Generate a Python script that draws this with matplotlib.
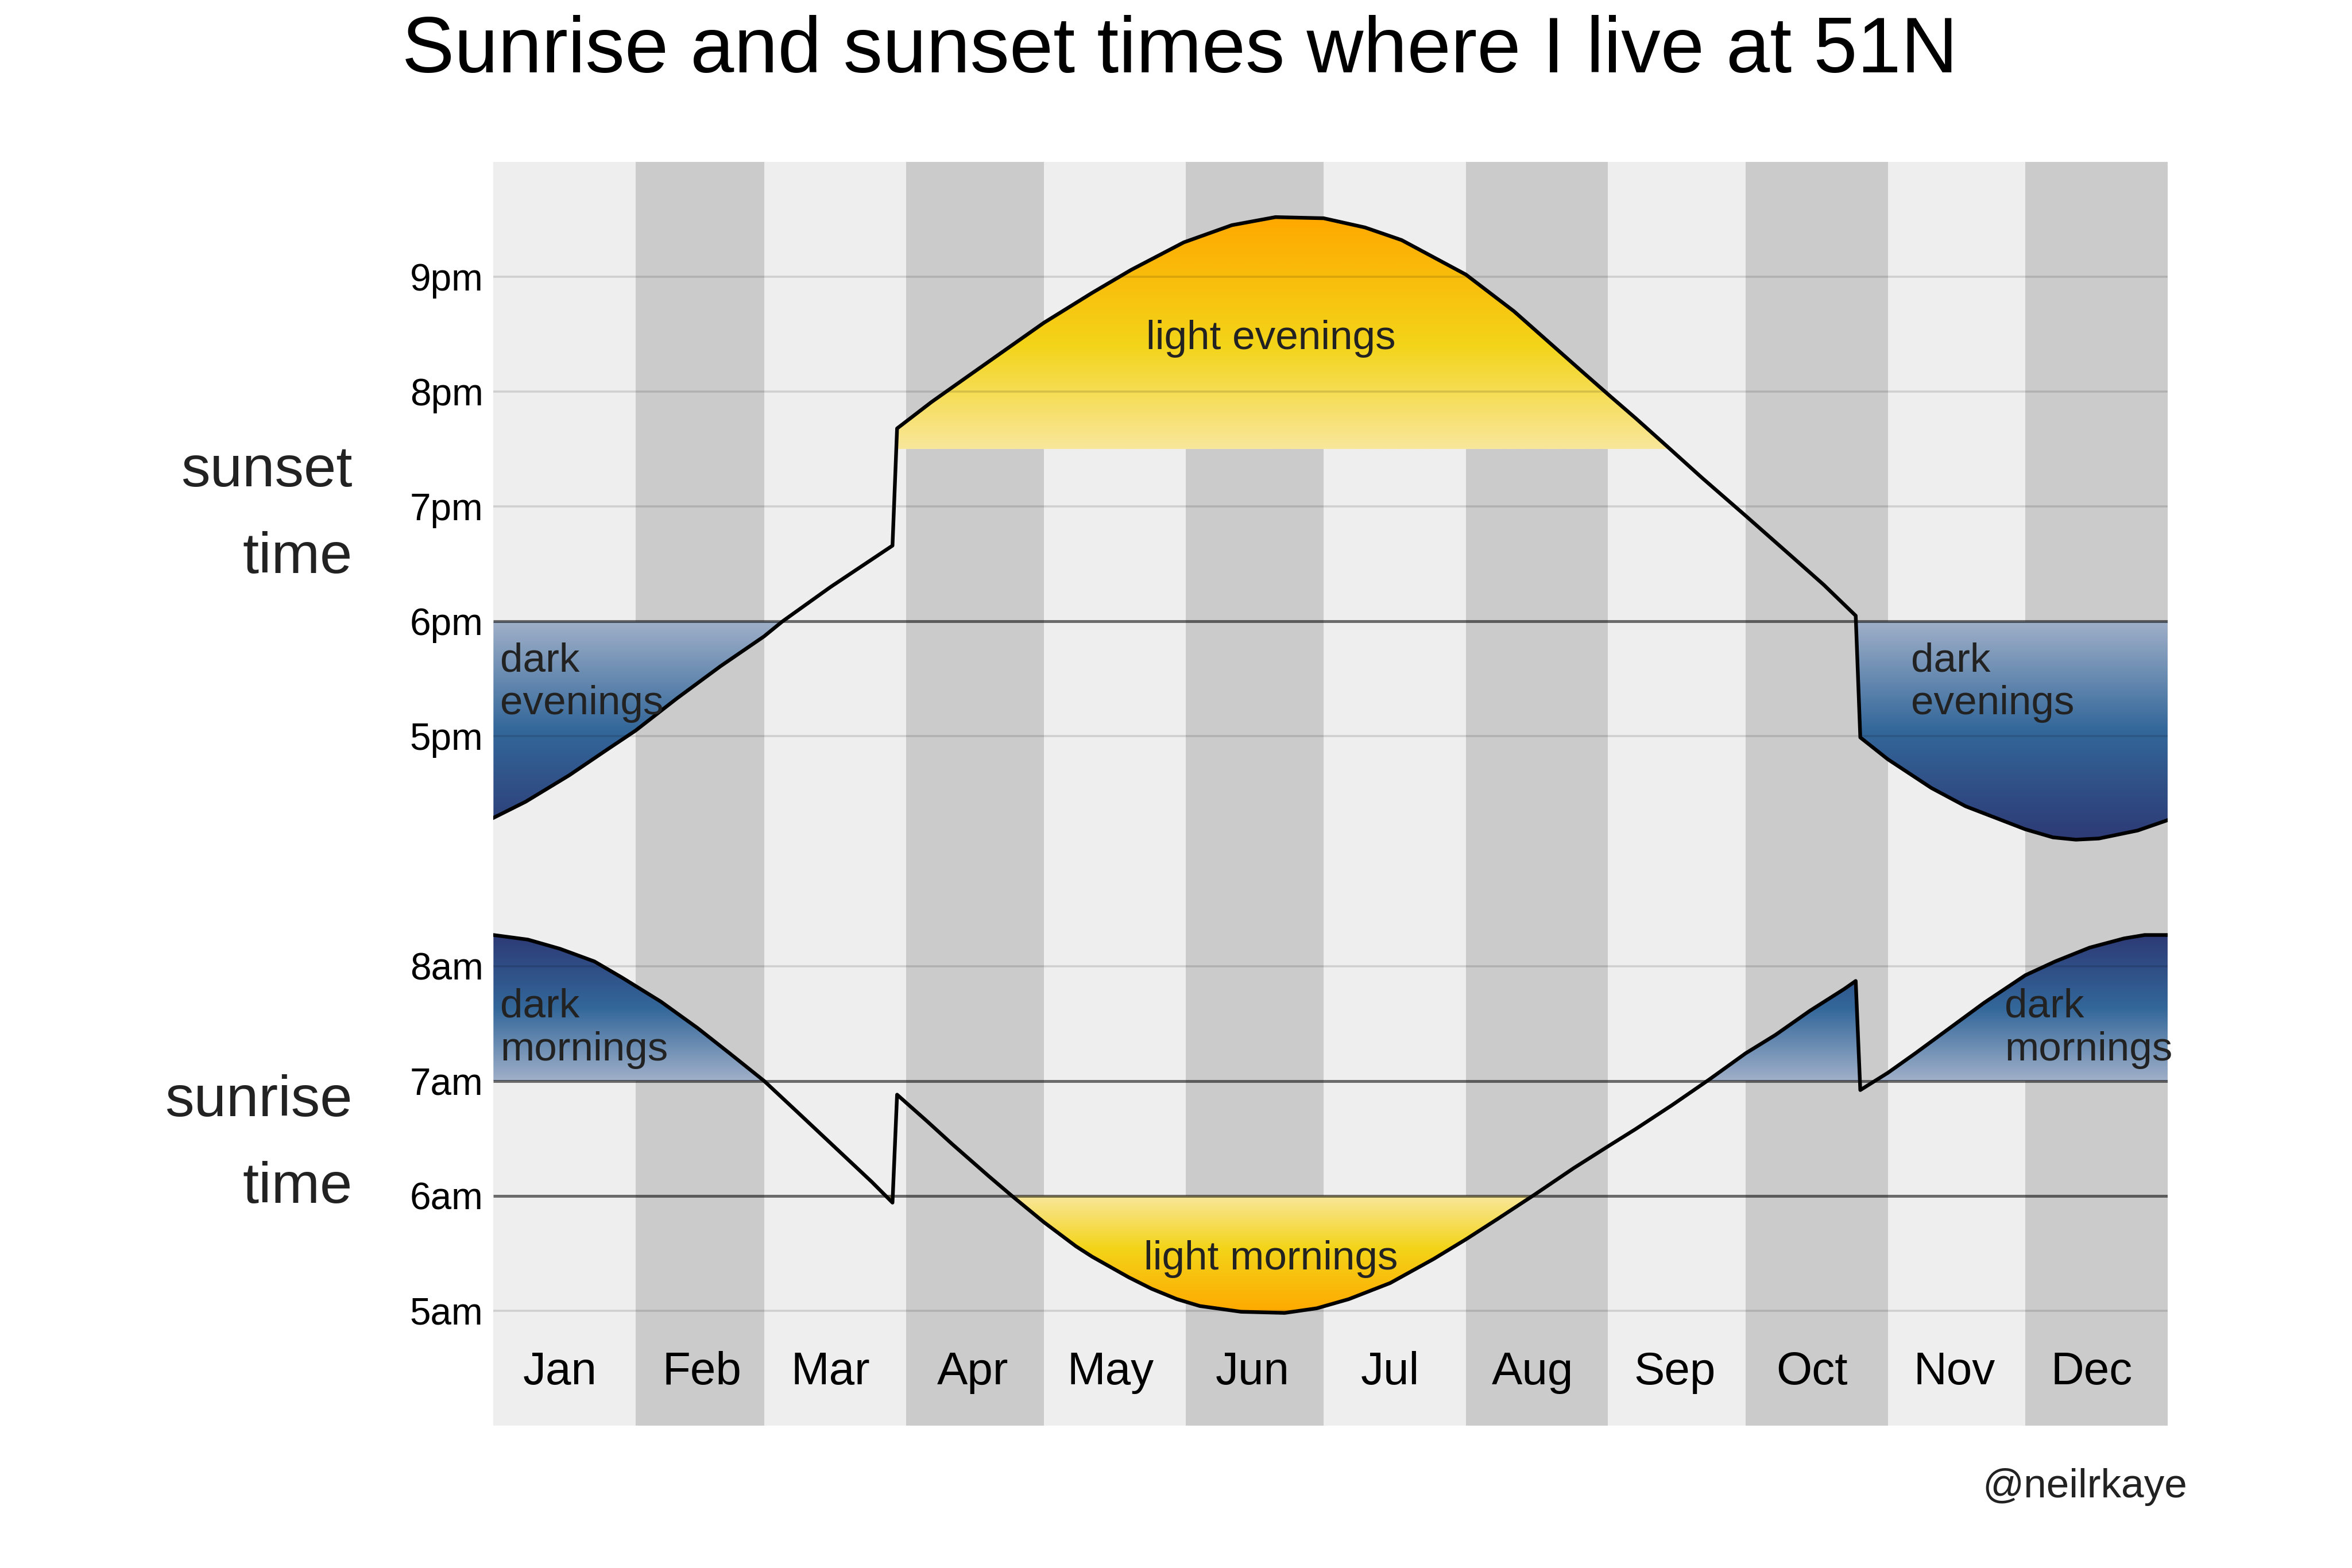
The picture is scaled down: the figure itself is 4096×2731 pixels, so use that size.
import matplotlib

matplotlib.use("Agg")
import matplotlib.pyplot as plt
import numpy as np
from matplotlib.colors import LinearSegmentedColormap
from matplotlib.patches import PathPatch
from matplotlib.path import Path

plt.rcParams["font.family"] = ["Liberation Sans", "DejaVu Sans"]

MONTHS = ["Jan", "Feb", "Mar", "Apr", "May", "Jun", "Jul", "Aug", "Sep", "Oct", "Nov", "Dec"]
MONTH_DAYS = [31, 28, 31, 30, 31, 30, 31, 31, 30, 31, 30, 31]

# sunset, local clock hours (day of year, 0 = start of Jan 1)
SUNSET_DAY = [0, 7, 16.5, 25, 31, 40, 49.5, 59, 63, 73.5, 87, 88, 95.5, 104, 120,
              130.5, 139, 150.5, 161, 170.5, 181, 190, 198, 212, 222.5, 237.5, 243.5,
              249, 256, 263.5, 273, 283.5, 290, 297, 298, 304, 313.5, 321, 334, 340, 345,
              350, 358.5, 365]
SUNSET_HR = [16.29, 16.43, 16.66, 16.89, 17.05, 17.33, 17.61, 17.87, 18.00, 18.30, 18.66,
             19.68, 19.91, 20.15, 20.60, 20.86, 21.06, 21.30, 21.45, 21.52, 21.51, 21.43,
             21.32, 21.02, 20.70, 20.17, 19.96, 19.77, 19.52, 19.25, 18.92, 18.55, 18.32,
             18.05, 16.99, 16.80, 16.55, 16.39, 16.19, 16.12, 16.10, 16.11, 16.18, 16.27]

# sunrise, local clock hours
SUNRISE_DAY = [0, 7.5, 14.5, 22, 28, 36.5, 44.5, 51.5, 59, 66.5, 74.5, 82.5, 87, 88, 94.5,
               100, 108, 113, 120, 127, 130.5, 138.5, 143.5, 149, 154, 163, 172.5, 179.5,
               186.5, 195.5, 205, 212, 219, 227, 235.5, 243, 249, 257, 265, 273, 279.5,
               287, 294.5, 297, 298, 304, 310, 317.5, 325, 334, 340.5, 348, 355.5, 360, 365]
SUNRISE_HR = [8.27, 8.23, 8.15, 8.04, 7.90, 7.69, 7.46, 7.24, 7.00, 6.72, 6.42, 6.12, 5.94,
              6.88, 6.65, 6.45, 6.17, 6.00, 5.77, 5.56, 5.47, 5.29, 5.19, 5.10, 5.04, 4.99,
              4.98, 5.02, 5.10, 5.24, 5.45, 5.62, 5.80, 6.01, 6.24, 6.43, 6.58, 6.79, 7.01,
              7.24, 7.40, 7.61, 7.80, 7.87, 6.92, 7.07, 7.24, 7.46, 7.68, 7.92, 8.04, 8.16,
              8.24, 8.27, 8.27]

TICK_HOURS = [5, 6, 7, 8, 17, 18, 19, 20, 21]
TICK_LABELS = ["5am", "6am", "7am", "8am", "5pm", "6pm", "7pm", "8pm", "9pm"]

OFFSET = 7  # sunrise drawn 7 h higher so both sit on one axis
BAND = ["#EEEEEE", "#CBCBCB"]
LIGHT = LinearSegmentedColormap.from_list(
    "light", [(0, "#F9E79B"), (0.45, "#F3D418"), (1, "#FFA800")])
DARK = LinearSegmentedColormap.from_list(
    "dark", [(0, "#A0B0C9"), (0.5, "#33679A"), (1, "#2D3A75")])
TXT = "#222222"


def y_pos(h):
    return h + OFFSET if h < 12 else h


def gradient_fill(ax, x, y, thr, below, cmap):
    x = np.asarray(x, float); y = np.asarray(y, float)
    where = y < thr if below else y > thr
    coll = ax.fill_between(x, y, thr, where=where, interpolate=True,
                           facecolor="none", edgecolor="none")
    paths = coll.get_paths()
    coll.remove()
    clip = PathPatch(Path.make_compound_path(*paths), transform=ax.transData,
                     facecolor="none", edgecolor="none")
    ax.add_patch(clip)
    ext = y[where].min() if below else y[where].max()
    grad = np.linspace(0, 1, 512).reshape(-1, 1)
    lo, hi = min(thr, ext), max(thr, ext)
    img = grad[::-1] if below else grad
    im = ax.imshow(img, extent=[0, 365, lo, hi], origin="lower", cmap=cmap,
                   aspect="auto", zorder=1, interpolation="bilinear")
    im.set_clip_path(clip)


def main():
    fig = plt.figure(figsize=(16, 2731 / 256), dpi=256)
    ax = fig.add_axes([0.2098, 0.0909, 0.7118, 0.8058])

    edges = np.concatenate([[0], np.cumsum(MONTH_DAYS)])
    for i, m in enumerate(MONTHS):
        ax.axvspan(edges[i], edges[i + 1], color=BAND[i % 2], lw=0, zorder=0)
        ax.text(edges[i] + 14.5, 11.36, m, ha="center", va="baseline",
                fontsize=22.5, color="black", zorder=5)

    sunrise = np.array(SUNRISE_HR) + OFFSET
    gradient_fill(ax, SUNSET_DAY, SUNSET_HR, 19.5, False, LIGHT)
    gradient_fill(ax, SUNSET_DAY, SUNSET_HR, 18.0, True, DARK)
    gradient_fill(ax, SUNRISE_DAY, sunrise, 13.0, True, LIGHT)
    gradient_fill(ax, SUNRISE_DAY, sunrise, 14.0, False, DARK)

    for h in TICK_HOURS:
        strong = h in (6, 7, 18)
        ax.hlines(y_pos(h), 0, 365, color="black", alpha=0.55 if strong else 0.13,
                  lw=1.4 if strong else 1.0, zorder=2)

    ax.plot(SUNSET_DAY, SUNSET_HR, color="black", lw=1.8, zorder=4, solid_joinstyle="round")
    ax.plot(SUNRISE_DAY, sunrise, color="black", lw=1.8, zorder=4, solid_joinstyle="round")

    ax.text(169.5, 20.37, "light evenings", ha="center", va="baseline", fontsize=20, color=TXT, zorder=5)
    ax.text(169.5, 12.36, "light mornings", ha="center", va="baseline", fontsize=20, color=TXT, zorder=5)
    # multi-line labels anchored on the baseline of their last line
    for x0, y0, s in [(1.5, 17.19, "dark\nevenings"), (309, 17.19, "dark\nevenings"),
                      (1.5, 14.18, "dark\nmornings"), (329.5, 14.18, "dark\nmornings")]:
        ax.text(x0, y0, s, ha="left", va="baseline", fontsize=20, color=TXT,
                linespacing=1.18, zorder=5)

    ax.text(-0.0842, 18.42, "sunset\ntime", transform=ax.get_yaxis_transform(), ha="right",
            va="baseline", fontsize=28.5, color=TXT, linespacing=1.78)
    ax.text(-0.0842, 12.94, "sunrise\ntime", transform=ax.get_yaxis_transform(), ha="right",
            va="baseline", fontsize=28.5, color=TXT, linespacing=1.78)

    ax.set_xlim(0, 365); ax.set_ylim(11, 22)
    ax.set_xticks([])
    ax.set_yticks([y_pos(h) for h in TICK_HOURS])
    ax.set_yticklabels(TICK_LABELS, fontsize=18.5, color="black")
    ax.tick_params(axis="y", length=0, pad=5)
    for s in ax.spines.values():
        s.set_visible(False)

    fig.text(0.5016, 0.954, "Sunrise and sunset times where I live at 51N", ha="center",
             va="baseline", fontsize=38.5, color="black")
    fig.text(0.930, 0.045, "@neilrkaye", ha="right", va="baseline", fontsize=20, color=TXT)
    fig.savefig("out.png", dpi=256, facecolor="white")
    plt.close(fig)


if __name__ == "__main__":
    main()
